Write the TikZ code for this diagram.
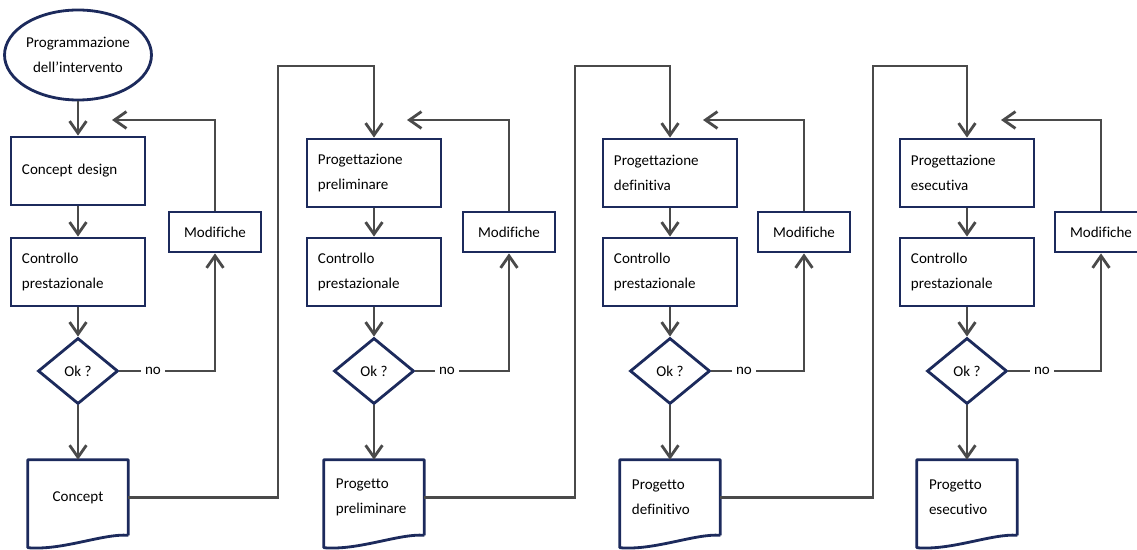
\documentclass[tikz,border=0pt]{standalone}
\usepackage{fontspec}
\setmainfont{Carlito}[Ligatures={NoCommon}]
\usepackage{tikz}
\usetikzlibrary{shapes.geometric}
\usetikzlibrary{arrows.meta}
\definecolor{navy}{HTML}{1C2A5C}
\definecolor{linegray}{HTML}{4A4A4A}
\tikzstyle{block}=[draw=navy, line width=2pt, minimum width=3.35cm, minimum height=1.7cm, text width=2.8cm, inner sep=0.275cm, align=left]
\tikzstyle{start}=[draw=navy, line width=2pt, ellipse, minimum width=3.33cm, minimum height=2.25cm, inner sep=0pt, align=center]
\tikzstyle{decision}=[draw=navy, line width=2pt, diamond, minimum width=2cm, minimum height=1.65cm, inner sep=0pt]
\tikzstyle{change}=[draw=navy, line width=2pt, minimum width=2.3cm, minimum height=1cm, inner sep=0pt]
\tikzstyle{output}=[minimum width=2.5cm, minimum height=1.875cm, text width=1.9cm, inner sep=0.3cm, align=left]
\tikzstyle{docline}=[draw=navy, line width=2pt, line join=round]
\tikzstyle{answer}=[inner sep=0.1cm]
\tikzstyle{flow}=[draw=linegray, line width=2pt, -{Straight Barb[length=0.3cm, width=0.42cm]}]
\tikzstyle{link}=[draw=linegray, line width=2pt]

\begin{document}
\begin{tikzpicture}[x=0.025cm, y=-0.025cm, font=\fontsize{10.7pt}{17.5pt}\selectfont]
    \useasboundingbox (0, 0) rectangle (1137, 550);
    % first column
    \node[start] (E) at (78, 55) {Programmazione\\dell'intervento};
    \node[block] (D1) at (78, 171) {Concept design};
    \node[block] (C1) at (78, 272) {Controllo\\prestazionale};
    \node[decision] (K1) at (78, 371) {Ok ?};
    \node[answer] (N1) at (153, 371) {no};
    \node[change] (M1) at (215, 232) {Modifiche};
    \node[output, align=center] (P1) at (78, 497.5) {Concept};
    \coordinate (F1) at (112, 120);
    \coordinate (J1) at (278, 66);
    % second column
    \node[block] (D2) at (374, 173) {Progettazione\\preliminare};
    \node[block] (C2) at (374, 272) {Controllo\\prestazionale};
    \node[decision] (K2) at (374, 371) {Ok ?};
    \node[answer] (N2) at (447, 371) {no};
    \node[change] (M2) at (509, 232) {Modifiche};
    \node[output] (P2) at (374, 497.5) {Progetto\\preliminare};
    \coordinate (F2) at (407, 120);
    \coordinate (J2) at (575, 66);
    % third column
    \node[block] (D3) at (670, 173) {Progettazione\\definitiva};
    \node[block] (C3) at (670, 272) {Controllo\\prestazionale};
    \node[decision] (K3) at (670, 371) {Ok ?};
    \node[answer] (N3) at (744, 371) {no};
    \node[change] (M3) at (804, 232) {Modifiche};
    \node[output] (P3) at (670, 497.5) {Progetto\\definitivo};
    \coordinate (F3) at (703, 120);
    \coordinate (J3) at (873, 66);
    % fourth column
    \node[block] (D4) at (967, 173) {Progettazione\\esecutiva};
    \node[block] (C4) at (967, 272) {Controllo\\prestazionale};
    \node[decision] (K4) at (967, 371) {Ok ?};
    \node[answer] (N4) at (1042, 371) {no};
    \node[change] (M4) at (1101, 232) {Modifiche};
    \node[output] (P4) at (967, 497.5) {Progetto\\esecutivo};
    \coordinate (F4) at (1001, 120);
    % document outlines
    \draw[docline] (P1.south east) -- (P1.north east) -- (P1.north west) -- ++(0, 88) .. controls +(35, 3) and +(-25, -2) .. (P1.south east);
    \draw[docline] (P2.south east) -- (P2.north east) -- (P2.north west) -- ++(0, 88) .. controls +(35, 3) and +(-25, -2) .. (P2.south east);
    \draw[docline] (P3.south east) -- (P3.north east) -- (P3.north west) -- ++(0, 88) .. controls +(35, 3) and +(-25, -2) .. (P3.south east);
    \draw[docline] (P4.south east) -- (P4.north east) -- (P4.north west) -- ++(0, 88) .. controls +(35, 3) and +(-25, -2) .. (P4.south east);
    % main flow
    \draw[flow] (E) -- (D1);
    \draw[flow] (D1) -- (C1);
    \draw[flow] (C1) -- (K1);
    \draw[flow] (K1) -- (P1);
    \draw[flow] (D2) -- (C2);
    \draw[flow] (C2) -- (K2);
    \draw[flow] (K2) -- (P2);
    \draw[flow] (D3) -- (C3);
    \draw[flow] (C3) -- (K3);
    \draw[flow] (K3) -- (P3);
    \draw[flow] (D4) -- (C4);
    \draw[flow] (C4) -- (K4);
    \draw[flow] (K4) -- (P4);
    % loops back
    \draw[link] (K1.east) -- (N1.west);
    \draw[link] (K2.east) -- (N2.west);
    \draw[link] (K3.east) -- (N3.west);
    \draw[link] (K4.east) -- (N4.west);
    \draw[flow] (N1.east) -| (M1.south);
    \draw[flow] (N2.east) -| (M2.south);
    \draw[flow] (N3.east) -| (M3.south);
    \draw[flow] (N4.east) -| (M4.south);
    \draw[flow] (M1.north) |- (F1);
    \draw[flow] (M2.north) |- (F2);
    \draw[flow] (M3.north) |- (F3);
    \draw[flow] (M4.north) |- (F4);
    % to the next phase
    \draw[flow] (P1.east) -| (J1) -| (D2.north);
    \draw[flow] (P2.east) -| (J2) -| (D3.north);
    \draw[flow] (P3.east) -| (J3) -| (D4.north);
\end{tikzpicture}
\end{document}
